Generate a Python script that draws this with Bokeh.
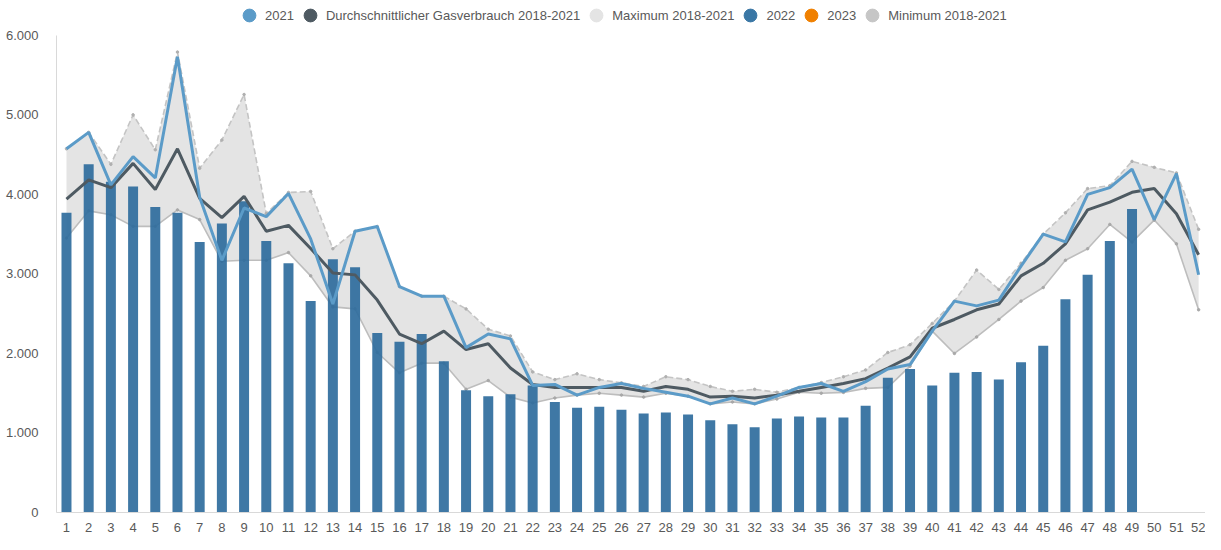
from bokeh.plotting import figure
from bokeh.models import (ColumnDataSource, Range1d, FixedTicker, CustomJSTickFormatter,
                          Legend, LegendItem)
from bokeh.embed import file_html
from bokeh.resources import INLINE

weeks = list(range(1, 53))

# 2022 weekly values (weeks 1-49)
v2022 = [3770, 4378, 4159, 4098, 3841, 3768, 3402, 3634, 3915, 3415,
         3134, 2659, 3183, 3085, 2256, 2146, 2244, 1902, 1537, 1463,
         1488, 1598, 1390, 1317, 1329, 1293, 1244, 1256, 1232, 1159,
         1110, 1073, 1183, 1207, 1195, 1195, 1341, 1695, 1805, 1598,
         1756, 1768, 1671, 1890, 2098, 2683, 2988, 3415, 3817]

v2021 = [4573, 4780, 4120, 4475, 4207, 5732, 3963, 3171, 3829, 3720,
         4012, 3440, 2622, 3537, 3597, 2841, 2720, 2720, 2073, 2244,
         2183, 1598, 1610, 1476, 1573, 1622, 1561, 1512, 1463, 1366,
         1439, 1366, 1463, 1573, 1622, 1524, 1646, 1805, 1860, 2280,
         2658, 2598, 2671, 3098, 3500, 3402, 4000, 4085, 4317, 3683,
         4262, 2990]

avg = [3939, 4183, 4085, 4390, 4061, 4573, 3951, 3707, 3976, 3537,
       3610, 3320, 3012, 2988, 2671, 2244, 2122, 2280, 2049, 2122,
       1817, 1610, 1573, 1573, 1573, 1573, 1524, 1585, 1549, 1451,
       1463, 1439, 1476, 1524, 1573, 1622, 1683, 1817, 1957, 2317,
       2427, 2549, 2622, 2976, 3134, 3378, 3805, 3902, 4026, 4075,
       3756, 3240]

vmax = [4573, 4780, 4378, 5000, 4561, 5790, 4329, 4683, 5256, 3760,
        4024, 4037, 3317, 3537, 3597, 2841, 2720, 2720, 2560, 2305,
        2220, 1768, 1671, 1744, 1671, 1630, 1585, 1707, 1671, 1585,
        1524, 1549, 1512, 1573, 1634, 1707, 1793, 2012, 2110, 2378,
        2658, 3049, 2805, 3134, 3500, 3768, 4073, 4110, 4415, 4340,
        4270, 3561]

vmin = [3451, 3793, 3744, 3598, 3598, 3805, 3683, 3159, 3171, 3171,
        3268, 2976, 2585, 2561, 2012, 1756, 1878, 1878, 1549, 1659,
        1451, 1378, 1439, 1476, 1500, 1476, 1451, 1500, 1463, 1366,
        1390, 1366, 1427, 1512, 1500, 1510, 1561, 1573, 1840, 2280,
        2000, 2207, 2427, 2658, 2829, 3171, 3317, 3622, 3400, 3677,
        3378, 2549]

v2023 = []

y_ticks = [0, 1000, 2000, 3000, 4000, 5000, 6000]

C2021 = "#5b9bc8"
CAVG = "#4e5a62"
CMAX = "#e4e4e4"
C2022 = "#2f6d9d"
C2023 = "#f08000"
CMIN = "#c6c6c6"
TXT = "#595959"

p = figure(width=1205, height=534, output_backend="svg", toolbar_location=None,
           x_range=Range1d(0.55, 52.31), y_range=Range1d(0, 6438),
           min_border_left=56, min_border_right=0, min_border_top=0, min_border_bottom=20)
p.outline_line_color = None
p.xgrid.visible = False
p.ygrid.visible = False
p.background_fill_color = "white"

band = ColumnDataSource(dict(x=weeks, lo=vmin, hi=vmax))
p.varea(x="x", y1="lo", y2="hi", source=band, fill_color=CMAX, fill_alpha=1.0)
p.line(weeks, vmax, line_color="#c4c4c4", line_width=1.6, line_dash="6 3")
p.scatter(weeks, vmax, size=2.5, color="#b0b0b0")
p.line(weeks, vmin, line_color="#bdbdbd", line_width=1.6)
p.scatter(weeks, vmin, size=2.5, color="#a8a8a8")

w22 = weeks[:len(v2022)]
p.vbar(x=w22, top=v2022, width=0.45, fill_color=C2022, line_color=None, fill_alpha=0.92)
p.line(weeks, avg, line_color=CAVG, line_width=3)
p.line(weeks, v2021, line_color=C2021, line_width=3)

# legend proxies
def proxy(color):
    return p.scatter([float("nan")], [float("nan")], marker="circle", size=14,
                     fill_color=color, line_color=color)

items = [
    LegendItem(label="2021", renderers=[proxy(C2021)]),
    LegendItem(label="Durchschnittlicher Gasverbrauch 2018-2021", renderers=[proxy(CAVG)]),
    LegendItem(label="Maximum 2018-2021", renderers=[proxy(CMAX)]),
    LegendItem(label="2022", renderers=[proxy("#3a77a5")]),
    LegendItem(label="2023", renderers=[proxy(C2023)]),
    LegendItem(label="Minimum 2018-2021", renderers=[proxy(CMIN)]),
]
legend = Legend(items=items, orientation="horizontal", location=(177, 481),
                border_line_color=None, background_fill_alpha=0,
                label_text_font="Liberation Sans", label_text_font_size="13px",
                label_text_color=TXT, glyph_width=32, glyph_height=32,
                label_standoff=0, spacing=0, padding=0, margin=0, label_height=15)
p.add_layout(legend)

for ax in (p.xaxis[0], p.yaxis[0]):
    ax.axis_line_color = "#d9d9d9"
    ax.major_tick_line_color = None
    ax.minor_tick_line_color = None
    ax.major_label_text_color = TXT
    ax.major_label_text_font = "Liberation Sans"
    ax.major_label_text_font_size = "13px"

p.xaxis[0].ticker = FixedTicker(ticks=weeks)
p.xaxis[0].major_label_standoff = 4
p.yaxis[0].ticker = FixedTicker(ticks=y_ticks)
p.yaxis[0].bounds = (0, 6000)
p.yaxis[0].major_label_standoff = 12
p.yaxis[0].formatter = CustomJSTickFormatter(
    code="return Math.round(tick).toString().replace(/\\B(?=(\\d{3})+(?!\\d))/g, '.');")

open("out.html", "w").write(file_html(p, INLINE))
